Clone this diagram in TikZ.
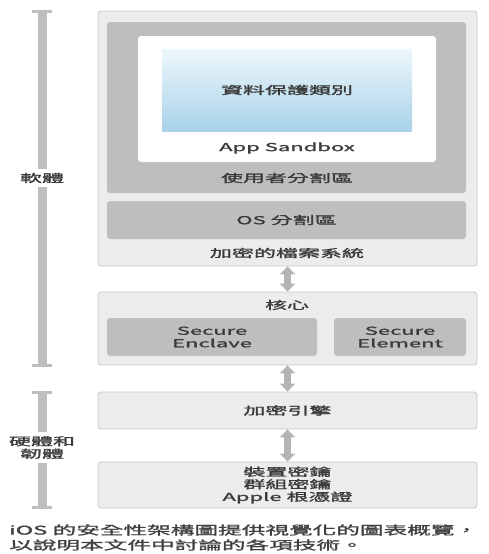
\documentclass[tikz,border=0pt]{standalone}
\usepackage[dvipsnames,svgnames,x11names]{xcolor}
\usepackage{fontspec}
\setmainfont{Noto Sans CJK TC}[FakeBold=1.2]
\usepackage{tikz}
\usetikzlibrary{arrows.meta, positioning}

\definecolor{boxgray}{HTML}{ECECEC}
\definecolor{edgegray}{HTML}{C8C8C8}
\definecolor{partgray}{HTML}{BDBEC0}
\definecolor{bargray}{HTML}{BEBEBE}
\definecolor{arrowgray}{HTML}{B4B4B4}
\definecolor{inkgray}{HTML}{3A3A3A}
\definecolor{skytop}{HTML}{EEF8FD}
\definecolor{skybot}{HTML}{A8D2E8}

\newcommand{\wtext}[1]{\scalebox{2}[1]{#1}}

\begin{document}
\begin{tikzpicture}[
    x=1pt, y=-1pt,
    every node/.style={text=inkgray, font=\fontsize{11}{12.5}\selectfont, inner sep=0pt},
    layer/.style={draw=edgegray, fill=boxgray, rounded corners=3pt, line width=0.8pt},
    part/.style={fill=partgray, rounded corners=3pt},
    link/.style={draw=arrowgray, line width=7pt,
      {Triangle[width=15pt,length=8pt]}-{Triangle[width=15pt,length=8pt]}},
    bar/.style={draw=bargray, line width=9pt},
    barcap/.style={draw=bargray, line width=3pt},
  ]
    \useasboundingbox (0,0) rectangle (489,554);

    % software stack
    \node[layer, minimum width=379pt, minimum height=255pt] (fs) at (287.5,138.5) {};
    \node[part, minimum width=359pt, minimum height=171pt] (user) at (286.5,107.5) {};
    \node[fill=white, rounded corners=3pt, minimum width=298pt, minimum height=126pt] (sandbox) at (287,99) {};
    \node[top color=skytop, bottom color=skybot, minimum width=250pt, minimum height=82pt] (dpc) at (287,90) {\wtext{資料保護類別}};
    \node (sandboxlbl) at (287,148) {\wtext{App Sandbox}};
    \node (userlbl) at (287,178) {\wtext{使用者分割區}};
    \node[part, minimum width=359pt, minimum height=38pt] (os) at (286.5,220) {\wtext{OS 分割區}};
    \node (fslbl) at (287,253) {\wtext{加密的檔案系統}};

    % kernel
    \node[layer, minimum width=379pt, minimum height=73pt] (kernel) at (287.5,328.5) {};
    \node (kernellbl) at (287,305) {\wtext{核心}};
    \node[part, minimum width=210pt, minimum height=38pt, align=center] (enclave) at (212,337)
      {\wtext{Secure}\\\wtext{Enclave}};
    \node[part, minimum width=132pt, minimum height=38pt, align=center] (element) at (400,337)
      {\wtext{Secure}\\\wtext{Element}};

    % hardware and firmware
    \node[layer, minimum width=379pt, minimum height=37pt] (engine) at (287.5,410.5) {\wtext{加密引擎}};
    \node[layer, minimum width=379pt, minimum height=46pt, align=center] (keys) at (287.5,485)
      {\wtext{裝置密鑰}\\\wtext{群組密鑰}\\\wtext{Apple 根憑證}};

    \draw[link] (fs.south) -- (kernel.north);
    \draw[link] (kernel.south) -- (engine.north);
    \draw[link] (engine.south) -- (keys.north);

    % side bars
    \coordinate (swtop) at (42,11);
    \coordinate (swbot) at (42,365);
    \coordinate (hwtop) at (42,392);
    \coordinate (hwbot) at (42,507);
    \draw[bar] (swtop) -- (swbot);
    \draw[barcap] ([xshift=-10pt]swtop) -- ([xshift=10pt]swtop);
    \draw[barcap] ([xshift=-10pt]swbot) -- ([xshift=10pt]swbot);
    \draw[bar] (hwtop) -- (hwbot);
    \draw[barcap] ([xshift=-10pt]hwtop) -- ([xshift=10pt]hwtop);
    \draw[barcap] ([xshift=-10pt]hwbot) -- ([xshift=10pt]hwbot);
    \node[fill=white, inner ysep=4pt] (swlbl) at (42,178) {\wtext{軟體}};
    \node[fill=white, inner ysep=4pt, align=center] (hwlbl) at (42,447.5) {\wtext{硬體和}\\\wtext{韌體}};

    % caption
    \node[anchor=west, font=\fontsize{12}{14}\selectfont, text=black!75] (cap1) at (9,530)
      {\scalebox{1.97}[1]{iOS 的安全性架構圖提供視覺化的圖表概覽，}};
    \node[anchor=west, font=\fontsize{12}{14}\selectfont, text=black!75] (cap2) at (9,545)
      {\scalebox{1.97}[1]{以說明本文件中討論的各項技術。}};
\end{tikzpicture}
\end{document}
